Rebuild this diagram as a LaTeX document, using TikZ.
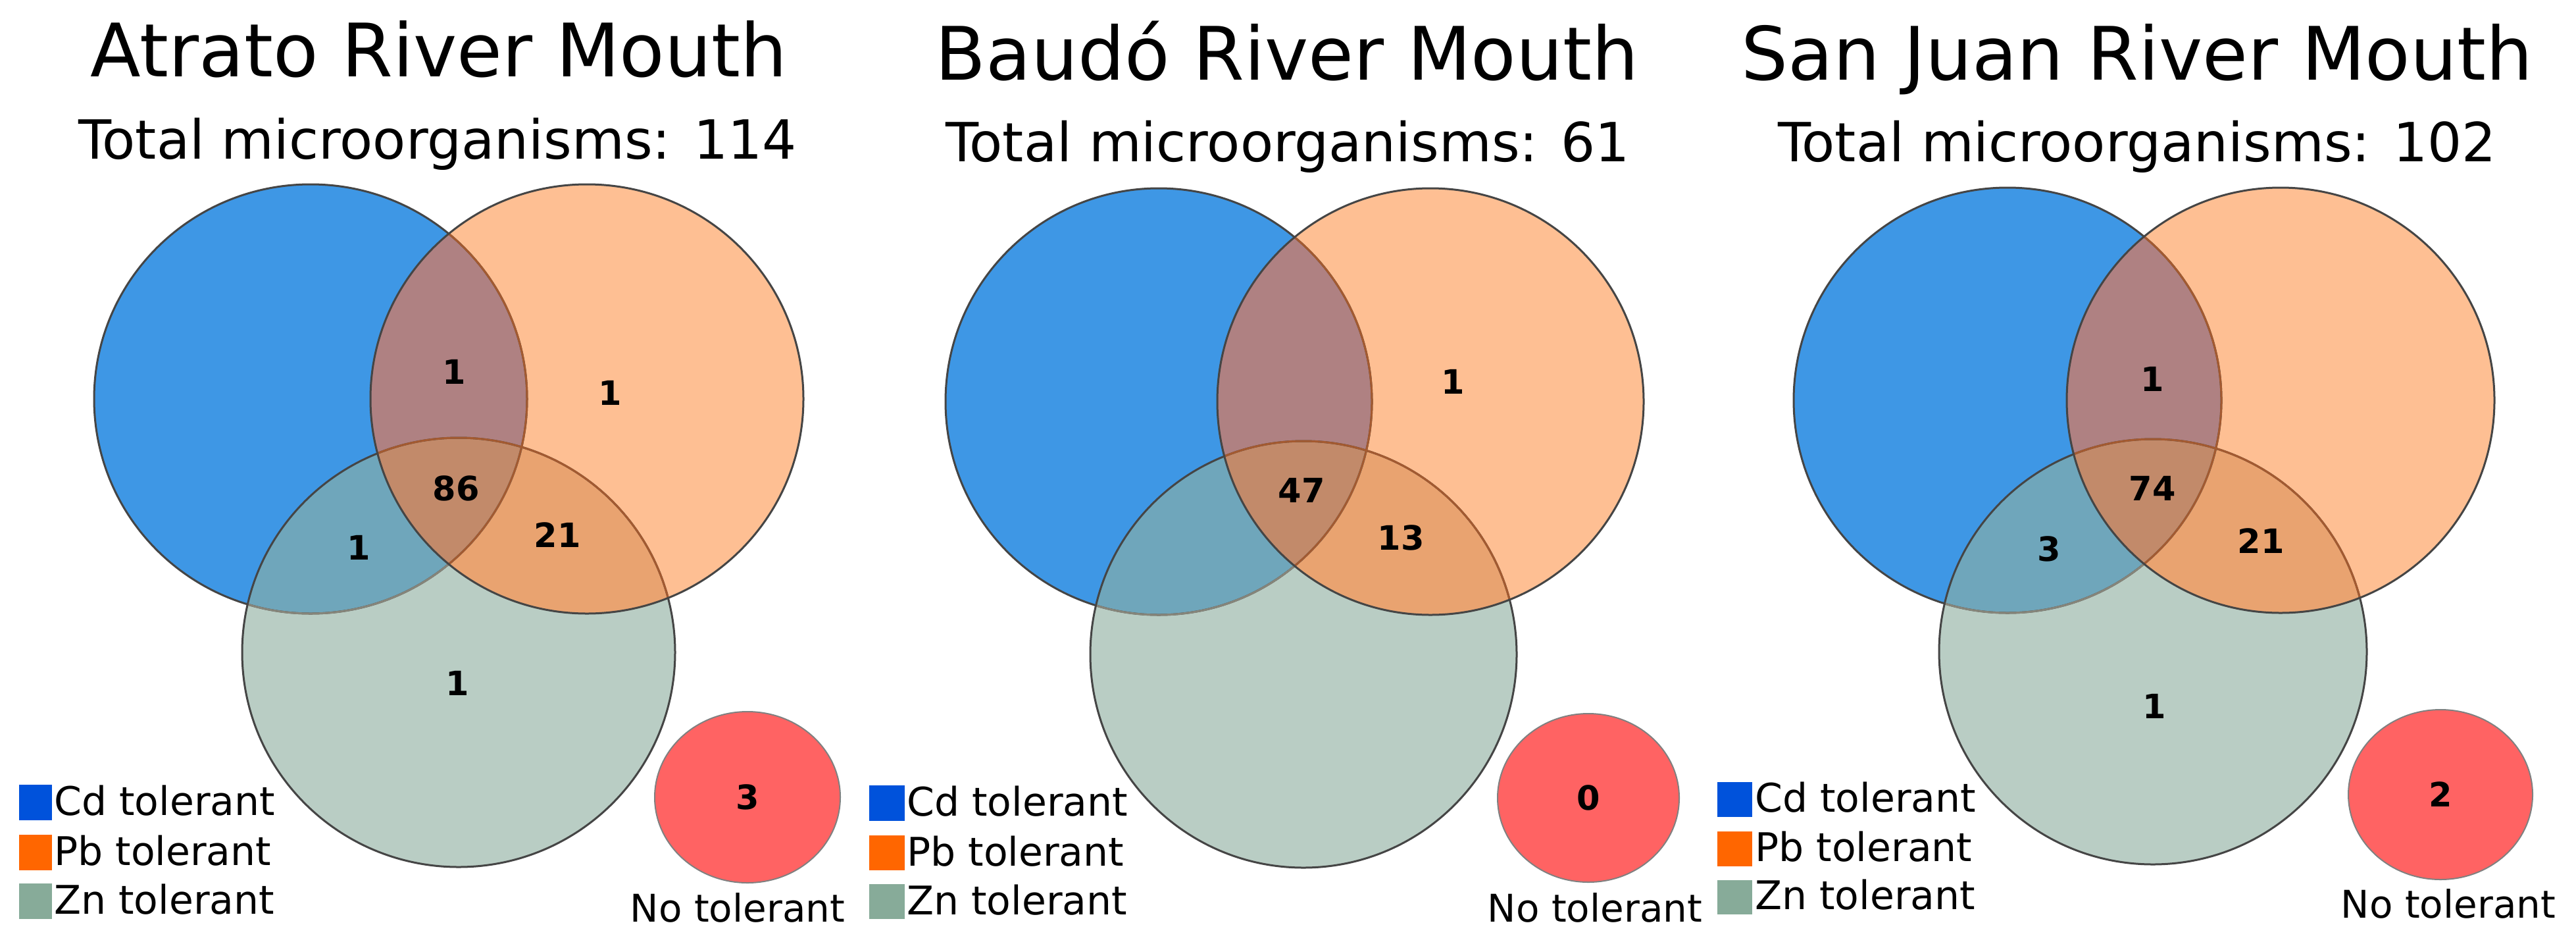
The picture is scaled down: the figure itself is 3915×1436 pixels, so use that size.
\documentclass[tikz,border=0pt]{standalone}
\usepackage{fontspec}
\setmainfont{DejaVu Sans}
\usetikzlibrary{shapes.geometric}
\definecolor{cB}{HTML}{3E97E5}
\definecolor{cO}{HTML}{FEBF93}
\definecolor{cG}{HTML}{B9CDC4}
\definecolor{cBO}{HTML}{AF8182}
\definecolor{cBG}{HTML}{6FA6BB}
\definecolor{cOG}{HTML}{E9A370}
\definecolor{cBOG}{HTML}{C28A6A}
\definecolor{edgedark}{HTML}{454545}
\definecolor{edgeG}{HTML}{86857A}
\definecolor{edgeO}{HTML}{A45A30}
\definecolor{redfill}{HTML}{FF6363}
\definecolor{rededge}{HTML}{808080}
\definecolor{legCd}{HTML}{0052DB}
\definecolor{legPb}{HTML}{FF6600}
\definecolor{legZn}{HTML}{87AB99}
\newcommand\drawvenn[3]{%
 \fill[cB] (#1b) ellipse [x radius=#2pt, y radius=#3pt];
 \fill[cO] (#1o) ellipse [x radius=#2pt, y radius=#3pt];
 \fill[cG] (#1g) ellipse [x radius=#2pt, y radius=#3pt];
 \begin{scope}\clip (#1b) ellipse [x radius=#2pt, y radius=#3pt];
   \fill[cBO] (#1o) ellipse [x radius=#2pt, y radius=#3pt];
   \fill[cBG] (#1g) ellipse [x radius=#2pt, y radius=#3pt];
 \end{scope}
 \begin{scope}\clip (#1o) ellipse [x radius=#2pt, y radius=#3pt];
   \fill[cOG] (#1g) ellipse [x radius=#2pt, y radius=#3pt];
 \end{scope}
 \begin{scope}\clip (#1b) ellipse [x radius=#2pt, y radius=#3pt];
   \clip (#1o) ellipse [x radius=#2pt, y radius=#3pt];
   \fill[cBOG] (#1g) ellipse [x radius=#2pt, y radius=#3pt];
 \end{scope}
 \draw[edge] (#1b) ellipse [x radius=#2pt, y radius=#3pt];
 \begin{scope}\clip (#1g) ellipse [x radius=#2pt, y radius=#3pt];
   \draw[edge,draw=edgeG] (#1b) ellipse [x radius=#2pt, y radius=#3pt];
 \end{scope}
 \draw[edge] (#1g) ellipse [x radius=#2pt, y radius=#3pt];
 \begin{scope}\clip (#1o) ellipse [x radius=#2pt, y radius=#3pt];
   \draw[edge,draw=edgeO] (#1b) ellipse [x radius=#2pt, y radius=#3pt];
   \draw[edge,draw=edgeO] (#1g) ellipse [x radius=#2pt, y radius=#3pt];
 \end{scope}
 \draw[edge] (#1o) ellipse [x radius=#2pt, y radius=#3pt];
}
\begin{document}
\begin{tikzpicture}[x=1pt,y=-1pt,
  edge/.style={draw=edgedark,line width=3pt},
  ttl/.style={font=\fontsize{112}{130}\selectfont,anchor=base,inner sep=0pt},
  subttl/.style={font=\fontsize{82}{95}\selectfont,anchor=base,inner sep=0pt},
  num/.style={font=\fontsize{51}{60}\selectfont\bfseries,inner sep=0pt},
  leg/.style={font=\fontsize{60}{70}\selectfont,anchor=base west,inner sep=0pt},
  notol/.style={font=\fontsize{58}{70}\selectfont,anchor=base,inner sep=0pt},
  redc/.style={ellipse,fill=redfill,draw=rededge,line width=2pt,inner sep=0pt,
    font=\fontsize{51}{60}\selectfont\bfseries}]
\fill[white] (0,0) rectangle (3915,1436);
\useasboundingbox (0,0) rectangle (3915,1436);
% centres
\coordinate (Ab) at (472,606);  \coordinate (Ao) at (892,606);  \coordinate (Ag) at (697,991);
\coordinate (Bb) at (1761,610); \coordinate (Bo) at (2174,610); \coordinate (Bg) at (1981,994);
\coordinate (Cb) at (3051,608); \coordinate (Co) at (3466,608); \coordinate (Cg) at (3272,990);
\drawvenn{A}{329}{326}
\drawvenn{B}{324}{324}
\drawvenn{C}{325}{323}
% titles
\node[ttl] (At) at (667,116) {Atrato River Mouth};
\node[subttl] (As) at (665,241) {Total microorganisms: 114};
\node[ttl] (Bt) at (1956,121) {Baudó River Mouth};
\node[subttl] (Bs) at (1957,245) {Total microorganisms: 61};
\node[ttl] (Ct) at (3248,121) {San Juan River Mouth};
\node[subttl] (Cs) at (3248,245) {Total microorganisms: 102};
% numbers Atrato
\node[num] (A-bo) at (690,565) {1};
\node[num] (A-o) at (927,597) {1};
\node[num] (A-bog) at (693,742) {86};
\node[num] (A-og) at (847,813) {21};
\node[num] (A-bg) at (545,832) {1};
\node[num] (A-g) at (695,1038) {1};
% numbers Baudo
\node[num] (B-o) at (2208,580) {1};
\node[num] (B-bog) at (1978,745) {47};
\node[num] (B-og) at (2129,817) {13};
% numbers San Juan
\node[num] (C-bo) at (3271,576) {1};
\node[num] (C-bog) at (3271,742) {74};
\node[num] (C-bg) at (3114,834) {3};
\node[num] (C-og) at (3436,822) {21};
\node[num] (C-g) at (3274,1073) {1};
% no tolerant
\node[redc,minimum width=282pt,minimum height=260pt] (A-n) at (1136,1211) {3};
\node[redc,minimum width=276pt,minimum height=256pt] (B-n) at (2414,1212) {0};
\node[redc,minimum width=280pt,minimum height=258pt] (C-n) at (3709,1207) {2};
\node[notol] (A-nl) at (1121,1400) {No tolerant};
\node[notol] (B-nl) at (2424,1400) {No tolerant};
\node[notol] (C-nl) at (3721,1394) {No tolerant};
% legends
\fill[legCd] (29,1192) rectangle (79,1246);
\fill[legPb] (29,1268) rectangle (79,1322);
\fill[legZn] (29,1342) rectangle (79,1396);
\node[leg] (A-l1) at (82,1238) {Cd tolerant};
\node[leg] (A-l2) at (82,1314) {Pb tolerant};
\node[leg] (A-l3) at (82,1388) {Zn tolerant};
\fill[legCd] (1321,1193) rectangle (1375,1247);
\fill[legPb] (1321,1269) rectangle (1375,1322);
\fill[legZn] (1321,1343) rectangle (1375,1396);
\node[leg] (B-l1) at (1378,1239) {Cd tolerant};
\node[leg] (B-l2) at (1378,1315) {Pb tolerant};
\node[leg] (B-l3) at (1378,1389) {Zn tolerant};
\fill[legCd] (2610,1188) rectangle (2663,1241);
\fill[legPb] (2610,1263) rectangle (2663,1316);
\fill[legZn] (2610,1337) rectangle (2663,1389);
\node[leg] (C-l1) at (2667,1233) {Cd tolerant};
\node[leg] (C-l2) at (2667,1308) {Pb tolerant};
\node[leg] (C-l3) at (2667,1381) {Zn tolerant};
\end{tikzpicture}
\end{document}
